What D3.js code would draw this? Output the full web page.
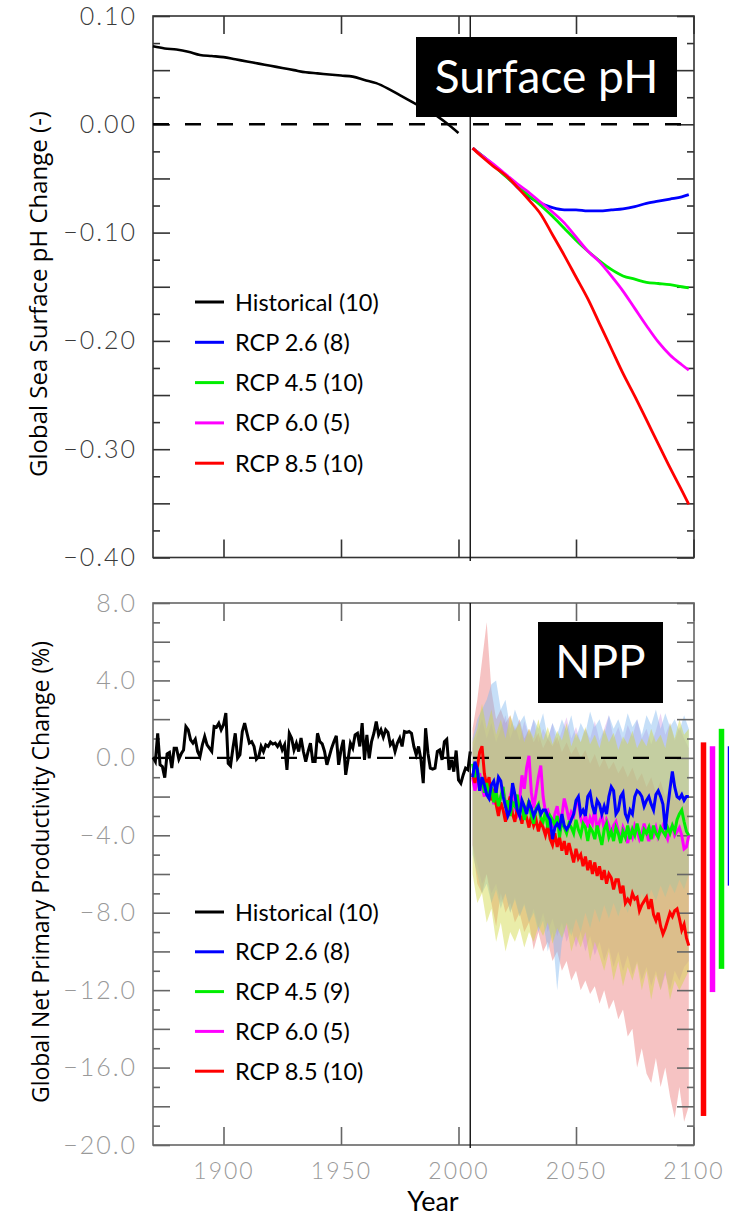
<!DOCTYPE html>
<html><head><meta charset="utf-8">
<script src="https://cdn.jsdelivr.net/npm/d3@7"></script>
<style>
html,body{margin:0;padding:0;background:#fff;}
svg{display:block;}
</style></head>
<body>
<svg id="chart" width="729" height="1216"></svg>
<script>
// ---------------- DATA ----------------
const xTickYears = [1900, 1950, 2000, 2050, 2100];
const phTickLabels = [0.10, 0.00, -0.10, -0.20, -0.30, -0.40];
const nppTickLabels = [8, 4, 0, -4, -8, -12, -16, -20];

// Surface pH (top panel)
const phHistYears = [1870,1875,1880,1885,1890,1895,1900,1905,1910,1915,1920,1925,1930,1935,1940,1945,1950,1955,1960,1965,1970,1975,1980,1985,1990,1995,2000];
const phHist = [0.072,0.070,0.069,0.067,0.064,0.063,0.062,0.060,0.058,0.056,0.054,0.052,0.050,0.048,0.047,0.046,0.045,0.044,0.041,0.038,0.033,0.027,0.021,0.015,0.009,0.001,-0.008];
const phFutYears = [2006,2010,2015,2020,2025,2030,2035,2040,2045,2050,2055,2060,2065,2070,2075,2080,2085,2090,2095,2098];
const phRcp26 = [-0.022,-0.029,-0.038,-0.047,-0.058,-0.067,-0.073,-0.077,-0.079,-0.079,-0.080,-0.080,-0.079,-0.078,-0.076,-0.073,-0.071,-0.069,-0.067,-0.065];
const phRcp45 = [-0.022,-0.029,-0.038,-0.048,-0.057,-0.066,-0.075,-0.085,-0.096,-0.107,-0.117,-0.126,-0.134,-0.140,-0.143,-0.146,-0.147,-0.148,-0.150,-0.151];
const phRcp60 = [-0.022,-0.029,-0.037,-0.046,-0.055,-0.063,-0.072,-0.081,-0.091,-0.104,-0.117,-0.127,-0.140,-0.154,-0.170,-0.186,-0.201,-0.213,-0.222,-0.227];
const phRcp85 = [-0.022,-0.030,-0.039,-0.047,-0.058,-0.070,-0.083,-0.102,-0.121,-0.141,-0.161,-0.184,-0.207,-0.230,-0.251,-0.273,-0.295,-0.317,-0.338,-0.351];

// NPP (bottom panel) - historical annual 1870..2005
const nppHistStart = 1870;
const nppHist = [0.03,-0.19,1.27,-0.36,-0.45,-1.02,0.21,0.28,-0.53,0.50,
 0.50,-0.07,0.21,0.41,1.62,1.45,0.93,0.76,0.96,0.33,
 0.07,0.67,1.10,0.67,0.50,0.33,1.62,1.58,1.79,1.45,
 1.71,2.31,-0.28,-0.41,0.50,1.27,-0.02,0.16,1.36,1.79,
 1.27,0.76,0.84,0.59,-0.07,0.07,0.59,0.33,0.67,0.59,
 0.81,0.71,0.76,0.59,0.79,0.41,0.67,-0.62,1.27,1.02,
 0.41,0.76,0.33,1.02,0.33,-0.19,0.33,0.76,-0.19,-0.19,
 1.27,0.84,0.72,0.33,-0.36,0.07,0.50,0.84,1.14,-0.36,
 0.41,0.93,-0.88,-0.10,0.76,0.50,1.19,1.27,0.59,1.79,
 -0.10,1.19,-0.02,0.84,1.27,1.88,1.19,1.45,1.07,1.45,
 1.31,0.67,0.84,0.33,0.76,1.02,0.59,1.36,1.31,1.36,
 1.27,0.59,0.16,0.59,-0.07,-1.31,1.53,0.24,-0.53,-0.58,
 -0.53,0.33,0.41,-0.10,0.84,0.96,-0.62,-0.10,-0.71,0.38,
 -1.14,-1.31,-0.88,-0.53,-0.62,0.33];

// NPP future annual 2006..2098
const nppFutStart = 2006;
const nppRcp26 = [-1.0,-0.2,-0.6,-1.7,-1.0,-1.4,-1.9,-2.1,-1.4,-1.2,
 -1.8,-1.0,-1.2,-2.0,-2.5,-3.0,-2.7,-1.3,-1.9,-2.7,
 -3.0,-2.2,-2.5,-2.9,-2.3,-2.6,-3.0,-2.7,-2.5,-2.9,
 -2.7,-2.7,-3.0,-3.2,-4.2,-3.6,-3.4,-3.6,-2.9,-3.5,
 -3.7,-3.5,-3.2,-2.9,-2.2,-2.0,-2.9,-2.7,-3.0,-2.0,
 -1.8,-2.5,-2.9,-2.2,-2.4,-2.9,-2.5,-2.9,-2.0,-1.5,
 -1.7,-2.9,-2.7,-2.0,-1.8,-2.9,-3.2,-2.7,-2.9,-2.0,
 -1.7,-1.8,-2.0,-2.5,-2.2,-2.0,-2.4,-2.7,-1.9,-1.7,
 -2.0,-2.4,-3.7,-2.6,-1.6,-0.7,-1.5,-2.0,-2.1,-1.9,
 -2.2,-2.0,-2.0];
const nppRcp45 = [-0.3,-1.0,-0.5,-1.5,-1.0,-1.8,-1.3,-2.0,-1.5,-2.3,
 -1.7,-2.5,-2.0,-1.5,-2.6,-2.2,-3.0,-2.3,-2.5,-1.9,
 -2.8,-2.4,-3.2,-2.7,-2.2,-3.0,-3.4,-2.6,-2.4,-3.1,
 -3.3,-2.8,-3.6,-3.0,-3.2,-3.5,-3.0,-4.1,-3.2,-3.6,
 -3.9,-3.4,-3.6,-3.9,-3.2,-3.7,-4.0,-3.4,-3.6,-4.3,
 -3.6,-3.8,-4.2,-3.5,-4.0,-4.5,-3.7,-3.4,-4.1,-3.8,
 -4.3,-3.6,-3.9,-4.4,-3.8,-4.1,-3.5,-4.2,-3.7,-4.0,
 -3.4,-3.9,-4.3,-3.7,-3.9,-3.6,-4.2,-3.5,-3.9,-4.1,
 -3.6,-3.8,-4.0,-3.6,-3.9,-3.5,-3.8,-3.2,-2.9,-2.7,
 -3.3,-3.8,-4.0];
const nppRcp60 = [-1.0,-1.7,-1.2,-0.8,-1.5,-2.0,-1.3,-2.1,-1.6,-2.4,
 -1.8,-2.6,-2.0,-1.7,-2.3,-2.8,-2.0,-1.5,-2.6,-2.9,
 -2.2,-0.9,-1.6,-0.5,0.1,-1.8,-2.6,-1.8,-1.0,-0.4,
 -2.0,-2.8,-2.7,-3.1,-3.6,-2.9,-2.5,-3.3,-3.0,-2.1,
 -2.6,-3.2,-2.8,-3.0,-2.4,-2.2,-3.1,-3.5,-2.9,-3.6,
 -3.1,-3.4,-2.6,-3.8,-3.3,-3.0,-3.7,-3.2,-3.5,-4.0,
 -3.5,-3.3,-3.8,-4.2,-3.6,-3.9,-4.4,-3.8,-4.1,-3.5,
 -3.8,-4.2,-3.9,-3.4,-3.9,-4.3,-3.7,-4.0,-3.6,-4.1,
 -3.8,-3.5,-3.9,-4.2,-3.7,-3.5,-4.0,-3.8,-3.6,-4.0,
 -4.7,-4.6,-4.0];
const nppRcp85 = [-0.8,-1.3,-0.5,0.3,0.6,-0.8,-1.5,-1.0,-2.2,-1.6,
 -2.4,-3.0,-2.3,-2.7,-3.3,-2.5,-2.0,-2.9,-3.3,-2.6,
 -2.9,-3.4,-2.7,-3.1,-3.6,-3.0,-3.5,-3.2,-3.8,-3.3,
 -3.6,-4.0,-3.5,-4.2,-4.5,-3.9,-4.6,-4.1,-4.8,-4.3,
 -5.0,-4.4,-4.9,-5.4,-4.7,-5.2,-5.0,-5.6,-5.1,-5.8,
 -5.3,-6.0,-5.4,-6.1,-5.6,-6.3,-5.8,-6.5,-6.0,-6.2,
 -6.8,-6.3,-6.3,-7.0,-6.6,-7.5,-7.3,
 -7.5,-7.0,-7.3,-7.2,-7.9,-7.6,-7.4,-7.2,-7.8,-7.3,
 -8.1,-8.4,-8.0,-8.7,-9.1,-8.8,-8.4,-8.0,-8.2,-7.9,
 -7.8,-8.3,-8.9,-8.6,-9.3,-9.7];

// Model spread envelopes, every 2 years 2006..2098
const bandStart = 2006, bandStep = 2;
const band85Hi = [1.5,3.0,5.0,7.0,3.5,2.0,2.5,1.8,2.2,1.4,2.0,1.0,1.5,0.8,1.3,0.5,1.0,0.6,1.1,0.3,0.8,0.2,0.6,0.0,0.4,-0.3,0.2,-0.5,0.0,-0.6,-0.2,-0.8,-0.4,-1.0,-0.5,-1.2,-0.8,-1.5,-1.0,-1.8,-1.2,-2.0,-1.5,-2.2,-1.6,-2.5,-2.0];
const band85Lo = [-4.5,-6.5,-7.0,-6.0,-7.5,-8.7,-7.0,-8.0,-7.5,-8.5,-8.0,-9.0,-8.5,-9.9,-9.0,-10.0,-9.5,-10.5,-10.0,-11.0,-10.5,-11.5,-11.0,-12.0,-11.5,-12.2,-11.8,-12.7,-12.0,-13.0,-12.5,-13.5,-13.0,-14.4,-14.0,-16.0,-15.0,-16.3,-16.8,-15.5,-17.0,-16.0,-17.5,-18.6,-17.0,-18.8,-18.0];
const band60Hi = [0.5,1.2,2.0,1.0,1.8,0.8,1.5,2.2,1.0,1.7,0.9,1.9,1.1,2.0,0.8,1.5,1.0,1.8,0.7,1.4,2.1,1.0,1.6,0.8,1.5,1.0,1.9,0.9,1.5,2.2,1.0,1.6,0.8,1.7,1.1,2.0,1.0,1.5,0.7,1.4,2.3,1.2,1.8,0.9,1.6,1.0,0.5];
const band60Lo = [-4.5,-5.5,-6.5,-6.0,-7.0,-6.5,-7.5,-7.0,-8.0,-7.2,-8.2,-7.5,-8.5,-7.8,-8.8,-8.0,-9.0,-8.3,-9.2,-8.5,-9.5,-8.8,-9.8,-9.0,-10.0,-9.2,-10.2,-9.5,-10.5,-9.8,-10.8,-10.0,-11.0,-10.2,-11.2,-10.5,-11.5,-10.8,-11.8,-11.0,-12.0,-11.2,-12.0,-11.0,-11.5,-10.8,-10.5];
const band45Hi = [0.8,1.5,2.8,1.5,2.5,1.2,2.0,1.0,2.2,1.4,1.8,0.8,1.5,1.0,2.0,0.9,1.6,0.7,1.4,0.9,1.8,0.6,1.3,0.8,1.6,0.7,1.2,0.5,1.5,0.8,1.3,0.4,1.1,0.7,1.4,0.5,1.0,0.6,1.5,0.8,1.2,0.5,1.8,1.0,2.0,1.2,1.5];
const band45Lo = [-6.0,-7.5,-7.0,-8.5,-7.8,-9.5,-8.5,-10.0,-9.0,-9.5,-8.8,-9.8,-9.0,-9.5,-8.7,-9.2,-8.5,-9.6,-8.8,-9.3,-8.6,-10.0,-9.2,-9.8,-9.0,-10.5,-9.5,-10.2,-11.0,-10.0,-11.5,-10.5,-11.8,-10.8,-11.5,-10.6,-12.0,-11.0,-12.5,-11.2,-12.0,-11.0,-12.5,-11.5,-12.0,-11.5,-11.0];
const band26Hi = [1.0,2.0,2.5,3.0,3.8,4.0,2.5,3.0,1.5,2.5,1.8,2.2,1.2,2.0,1.5,2.3,1.0,1.8,1.2,2.0,1.4,2.2,1.0,1.8,1.3,2.4,1.6,2.0,1.2,2.2,1.5,2.0,1.3,2.3,1.6,2.0,1.2,2.2,1.7,2.5,1.5,2.3,1.6,2.0,1.4,2.2,1.5];
const band26Lo = [-5.0,-6.0,-7.0,-6.5,-7.5,-6.8,-7.8,-7.0,-8.0,-7.3,-8.2,-7.6,-8.5,-8.0,-9.0,-8.4,-10.0,-9.0,-12.0,-9.5,-8.5,-9.2,-8.3,-9.0,-8.0,-8.8,-7.8,-8.5,-7.6,-8.3,-7.5,-8.2,-7.4,-8.0,-7.2,-7.8,-7.0,-7.6,-6.8,-7.4,-6.6,-7.2,-6.5,-7.0,-6.3,-6.8,-6.0];

// 2100 range bars (right of the NPP panel)
const rangeNames = ["RCP 8.5", "RCP 6.0", "RCP 4.5", "RCP 2.6"];
const rangeMax = [0.8, 0.6, 1.5, 0.6];
const rangeMin = [-18.5, -12.1, -10.9, -6.6];

const legendTop = ["Historical (10)", "RCP 2.6 (8)", "RCP 4.5 (10)", "RCP 6.0 (5)", "RCP 8.5 (10)"];
const legendBot = ["Historical (10)", "RCP 2.6 (8)", "RCP 4.5 (9)", "RCP 6.0 (5)", "RCP 8.5 (10)"];
const legendColors = ["#000000", "#0000ff", "#00ee00", "#ff00ff", "#ff0000"];

// ---------------- DRAW ----------------
const svg = d3.select("#chart");
const FONT = "Lato, 'Open Sans', sans-serif";
const TFONT = "'Open Sans', Lato, sans-serif";

const x = d3.scaleLinear().domain([1870, 2100]).range([153, 693.5]);
const yTop = d3.scaleLinear().domain([-0.40, 0.10]).range([557.5, 16]);
const yBot = d3.scaleLinear().domain([-20, 8]).range([1145, 603]);
const xL = 153, xR = 694, xDiv = x(2005);

function clean(g){ g.select(".domain").remove(); }

function drawPanel(y, frameColor, labelColor, ticksMajor, ticksMinor, labels, fmt) {
  const [yb, yt] = y.range();
  const g = svg.append("g");
  g.append("g").attr("transform", `translate(${xL},0)`)
    .call(d3.axisRight(y).tickValues(ticksMajor).tickSize(17).tickFormat(""))
    .call(clean);
  g.append("g").attr("transform", `translate(${xL},0)`)
    .call(d3.axisRight(y).tickValues(ticksMinor).tickSize(7).tickFormat(""))
    .call(clean);
  g.append("g").attr("transform", `translate(${xR},0)`)
    .call(d3.axisLeft(y).tickValues(ticksMajor).tickSize(17).tickFormat(""))
    .call(clean);
  g.append("g").attr("transform", `translate(${xR},0)`)
    .call(d3.axisLeft(y).tickValues(ticksMinor).tickSize(7).tickFormat(""))
    .call(clean);
  g.append("g").attr("transform", `translate(0,${yt})`)
    .call(d3.axisBottom(x).tickValues(xTickYears).tickSize(18).tickFormat(""))
    .call(clean);
  g.append("g").attr("transform", `translate(0,${yb})`)
    .call(d3.axisTop(x).tickValues(xTickYears).tickSize(18).tickFormat(""))
    .call(clean);
  g.selectAll(".tick line").attr("stroke", frameColor).attr("stroke-width", 1.6);
  const lab = svg.append("g").attr("transform", `translate(${xL},0)`)
    .call(d3.axisLeft(y).tickValues(labels).tickSize(0).tickPadding(16).tickFormat(fmt))
    .call(clean);
  lab.selectAll("text").attr("font-family", FONT).attr("font-weight", 300)
    .attr("font-size", 25).attr("letter-spacing", 2).attr("fill", labelColor);
  svg.append("rect").attr("x", xL).attr("y", yt).attr("width", xR - xL).attr("height", yb - yt)
    .attr("fill", "none").attr("stroke", frameColor).attr("stroke-width", 1.6);
}

// ===== TOP PANEL =====
drawPanel(yTop, "#333", "#3a3a3a",
  d3.range(-8, 3).map(i => i * 0.05),
  d3.range(-8, 2).map(i => i * 0.05 + 0.025),
  phTickLabels, d3.format(".2f"));

svg.append("line").attr("x1", xL).attr("x2", xR).attr("y1", yTop(0)).attr("y2", yTop(0))
  .attr("stroke", "#000").attr("stroke-width", 2.4).attr("stroke-dasharray", "16,16");

const linePH = d3.line().x(d => x(d[0])).y(d => yTop(d[1])).curve(d3.curveMonotoneX);
svg.append("path").datum(phHistYears.map((yr, i) => [yr, phHist[i]]))
  .attr("d", linePH).attr("fill", "none").attr("stroke", "#000").attr("stroke-width", 2.6);

[[phRcp26, "#0000ff"], [phRcp45, "#00ee00"], [phRcp60, "#ff00ff"], [phRcp85, "#ff0000"]].forEach(([arr, c]) => {
  svg.append("path").datum(phFutYears.map((yr, i) => [yr, arr[i]]))
    .attr("d", linePH).attr("fill", "none").attr("stroke", c).attr("stroke-width", 2.8);
});

svg.append("line").attr("x1", xDiv).attr("x2", xDiv).attr("y1", 16).attr("y2", 561)
  .attr("stroke", "#111").attr("stroke-width", 1.4);

svg.append("rect").attr("x", 416).attr("y", 37).attr("width", 261).attr("height", 80).attr("fill", "#000");
svg.append("text").attr("x", 546.5).attr("y", 93).attr("text-anchor", "middle")
  .attr("font-family", FONT).attr("font-size", 46).attr("fill", "#fff").text("Surface pH");

legendTop.forEach((t, i) => {
  const yy = 302 + i * 40.3;
  svg.append("line").attr("x1", 195).attr("x2", 224).attr("y1", yy).attr("y2", yy)
    .attr("stroke", legendColors[i]).attr("stroke-width", 3);
  svg.append("text").attr("x", 235).attr("y", yy + 8.5).attr("font-family", FONT)
    .attr("font-size", 23.5).attr("fill", "#000").text(t);
});

svg.append("text").attr("transform", `translate(47,294) rotate(-90)`).attr("text-anchor", "middle")
  .attr("font-family", TFONT).attr("font-size", 24).attr("fill", "#000")
  .text("Global Sea Surface pH Change (-)");

// ===== BOTTOM PANEL =====
const bandYears = band85Hi.map((_, i) => bandStart + i * bandStep);
const area = d3.area().x(d => x(d[0])).y0(d => yBot(d[2])).y1(d => yBot(d[1]));
[[band85Hi, band85Lo, "#e86060", 0.38], [band60Hi, band60Lo, "#c070d8", 0.3],
 [band26Hi, band26Lo, "#80b8f0", 0.45], [band45Hi, band45Lo, "#d0d840", 0.45]].forEach(([hi, lo, c, op]) => {
  svg.append("path").datum(bandYears.map((yr, i) => [yr, hi[i], lo[i]]))
    .attr("d", area).attr("fill", c).attr("fill-opacity", op);
});

drawPanel(yBot, "#666", "#999",
  d3.range(-10, 5).map(i => i * 2),
  d3.range(-10, 4).map(i => i * 2 + 1),
  nppTickLabels, d3.format(".1f"));

svg.append("line").attr("x1", xL).attr("x2", xR).attr("y1", yBot(0)).attr("y2", yBot(0))
  .attr("stroke", "#000").attr("stroke-width", 2.4).attr("stroke-dasharray", "16,16");

const lineN = d3.line().x(d => x(d[0])).y(d => yBot(d[1]));
svg.append("path").datum(nppHist.map((v, i) => [nppHistStart + i, v]))
  .attr("d", lineN).attr("fill", "none").attr("stroke", "#000").attr("stroke-width", 3);

[[nppRcp60, "#ff00ff"], [nppRcp85, "#ff0000"], [nppRcp45, "#00ee00"], [nppRcp26, "#0000ff"]].forEach(([arr, c]) => {
  svg.append("path").datum(arr.map((v, i) => [nppFutStart + i, v]))
    .attr("d", lineN).attr("fill", "none").attr("stroke", c).attr("stroke-width", 3);
});

svg.append("line").attr("x1", xDiv).attr("x2", xDiv).attr("y1", 603).attr("y2", 1148)
  .attr("stroke", "#111").attr("stroke-width", 1.4);

const xl = svg.append("g").attr("transform", `translate(0,1145)`)
  .call(d3.axisBottom(x).tickValues(xTickYears).tickSize(0).tickPadding(18).tickFormat(d3.format("d")))
  .call(clean);
xl.selectAll("text").attr("font-family", FONT).attr("font-weight", 300).attr("font-size", 23)
  .attr("letter-spacing", 2).attr("fill", "#999");

svg.append("text").attr("x", 433).attr("y", 1211).attr("text-anchor", "middle")
  .attr("font-family", FONT).attr("font-size", 27).attr("fill", "#000").text("Year");

const rangeColor = {"RCP 8.5": "#ff0000", "RCP 6.0": "#ff00ff", "RCP 4.5": "#00ee00", "RCP 2.6": "#0000ff"};
const xb = d3.scalePoint().domain(rangeNames).range([703.5, 730.5]);
rangeNames.forEach((n, i) => {
  svg.append("rect").attr("x", xb(n) - 2.75).attr("width", 5.5)
    .attr("y", yBot(rangeMax[i])).attr("height", yBot(rangeMin[i]) - yBot(rangeMax[i]))
    .attr("fill", rangeColor[n]);
});

svg.append("rect").attr("x", 538).attr("y", 622).attr("width", 125).attr("height", 81).attr("fill", "#000");
svg.append("text").attr("x", 600.5).attr("y", 678).attr("text-anchor", "middle")
  .attr("font-family", FONT).attr("font-size", 46).attr("fill", "#fff").text("NPP");

legendBot.forEach((t, i) => {
  const yy = 912 + i * 39.8;
  svg.append("line").attr("x1", 195).attr("x2", 224).attr("y1", yy).attr("y2", yy)
    .attr("stroke", legendColors[i]).attr("stroke-width", 3);
  svg.append("text").attr("x", 235).attr("y", yy + 8.5).attr("font-family", FONT)
    .attr("font-size", 23.5).attr("fill", "#000").text(t);
});

svg.append("text").attr("transform", `translate(49,872) rotate(-90)`).attr("text-anchor", "middle")
  .attr("font-family", TFONT).attr("font-size", 23).attr("fill", "#000")
  .text("Global Net Primary Productivity Change (%)");
</script>
</body></html>
